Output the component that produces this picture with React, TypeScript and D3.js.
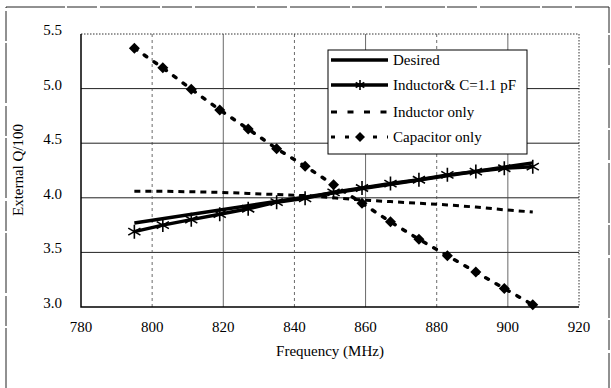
import React, { useEffect, useRef } from 'react';
import * as d3 from 'd3';

const freqs = [795, 803, 811, 819, 827, 835, 843, 851, 859, 867, 875, 883, 891, 899, 907];
const desiredFreqs = [795, 907];
const desired = [3.77, 4.32];
const inductorC = [3.69, 3.75, 3.80, 3.85, 3.90, 3.96, 3.995, 4.05, 4.09, 4.13, 4.165, 4.21, 4.24, 4.27, 4.285];
const inductorOnly = [4.06, 4.06, 4.055, 4.05, 4.04, 4.03, 4.02, 4.0, 3.98, 3.965, 3.95, 3.935, 3.915, 3.89, 3.87];
const capacitorOnly = [5.37, 5.19, 4.995, 4.805, 4.63, 4.45, 4.29, 4.12, 3.95, 3.78, 3.62, 3.47, 3.32, 3.17, 3.02];
const xTicks = [780, 800, 820, 840, 860, 880, 900, 920];
const yTicks = [3.0, 3.5, 4.0, 4.5, 5.0, 5.5];
const legendLabels = ['Desired', 'Inductor& C=1.1 pF', 'Inductor only', 'Capacitor only'];

const FONT = "'Liberation Serif', 'DejaVu Serif', serif";

const App = () => {
  const svgRef = useRef<SVGSVGElement | null>(null);

  useEffect(() => {
    const root = d3.select(svgRef.current);
    root.selectAll('*').remove();

    const W = 611, H = 388;
    const margin = { top: 34, right: 32, bottom: 81, left: 81 };
    const width = W - margin.left - margin.right;
    const height = H - margin.top - margin.bottom;

    root.attr('width', W).attr('height', H).attr('font-family', FONT);

    // outer frame
    root.append('path')
      .attr('d', `M6,${H} L6,7 L609,7 L609,${H}`)
      .attr('fill', 'none').attr('stroke', '#222').attr('stroke-width', 1)
      .attr('stroke-dasharray', '60,2,30,3');

    const svg = root.append('g').attr('transform', `translate(${margin.left},${margin.top})`);

    const x = d3.scaleLinear().domain([780, 920]).range([0, width]);
    const y = d3.scaleLinear().domain([3.0, 5.5]).range([height, 0]);

    // grid
    yTicks.slice(1, -1).forEach(t => {
      svg.append('line').attr('x1', 0).attr('x2', width).attr('y1', y(t)).attr('y2', y(t))
        .attr('stroke', '#222').attr('stroke-width', 1);
    });
    xTicks.slice(1, -1).forEach((t, i) => {
      svg.append('line').attr('x1', x(t)).attr('x2', x(t)).attr('y1', 0).attr('y2', height)
        .attr('stroke', '#444').attr('stroke-width', 0.8)
        .attr('stroke-dasharray', i % 2 === 0 ? '3,3' : null);
    });
    // top/right dotted border
    svg.append('path').attr('d', `M0,0 L${width},0 L${width},${height}`)
      .attr('fill', 'none').attr('stroke', '#333').attr('stroke-width', 1).attr('stroke-dasharray', '1.5,1.5');
    // axes lines
    svg.append('path').attr('d', `M0,0 L0,${height} L${width},${height}`)
      .attr('fill', 'none').attr('stroke', '#000').attr('stroke-width', 1.5);

    // tick labels
    svg.append('g').selectAll('text').data(yTicks).join('text')
      .attr('x', -19).attr('y', d => y(d) + 1)
      .attr('text-anchor', 'end')
      .attr('font-family', FONT).attr('font-size', 15)
      .text(d => d.toFixed(1));
    svg.append('g').selectAll('text').data(xTicks).join('text')
      .attr('x', d => x(d)).attr('y', height + 25)
      .attr('text-anchor', 'middle')
      .attr('font-family', FONT).attr('font-size', 15)
      .text(d => d);

    svg.append('text').attr('x', width / 2).attr('y', height + 49)
      .attr('text-anchor', 'middle')
      .attr('font-family', FONT).attr('font-size', 15)
      .text('Frequency (MHz)');
    svg.append('text')
      .attr('transform', `translate(${-58},${136}) rotate(-90)`)
      .attr('text-anchor', 'middle')
      .attr('font-family', FONT).attr('font-size', 15)
      .text('External Q/100');

    const line = d3.line<[number, number]>().x(d => x(d[0])).y(d => y(d[1]));
    const pts = (vals: number[], fs: number[] = freqs) => vals.map((v, i) => [fs[i], v] as [number, number]);

    // capacitor only
    svg.append('path').datum(pts(capacitorOnly)).attr('d', line)
      .attr('fill', 'none').attr('stroke', '#000').attr('stroke-width', 3.5)
      .attr('stroke-dasharray', '3,9').attr('stroke-linecap', 'round');
    // inductor only
    svg.append('path').datum(pts(inductorOnly)).attr('d', line)
      .attr('fill', 'none').attr('stroke', '#000').attr('stroke-width', 3)
      .attr('stroke-dasharray', '6,5');
    // desired
    svg.append('path').datum(pts(desired, desiredFreqs)).attr('d', line)
      .attr('fill', 'none').attr('stroke', '#000').attr('stroke-width', 3.5);
    // inductor & C
    svg.append('path').datum(pts(inductorC)).attr('d', line)
      .attr('fill', 'none').attr('stroke', '#000').attr('stroke-width', 3.5);

    const diamond = (g: any, cx: number, cy: number, r: number) => {
      g.append('path').attr('d', `M${cx},${cy - r} L${cx + r},${cy} L${cx},${cy + r} L${cx - r},${cy} Z`)
        .attr('fill', '#000');
    };
    const star = (g: any, cx: number, cy: number, r: number) => {
      const a = r * 0.87, b = r * 0.5;
      g.append('path')
        .attr('d', `M${cx},${cy - r} L${cx},${cy + r} M${cx - a},${cy - b} L${cx + a},${cy + b} M${cx - a},${cy + b} L${cx + a},${cy - b}`)
        .attr('stroke', '#000').attr('stroke-width', 1.6).attr('fill', 'none');
    };

    pts(capacitorOnly).forEach(d => diamond(svg, x(d[0]), y(d[1]), 5.5));
    pts(inductorC).forEach(d => star(svg, x(d[0]), y(d[1]), 7));

    // legend
    const lg = root.append('g').attr('transform', 'translate(328,50)');
    lg.append('rect').attr('width', 199).attr('height', 104)
      .attr('fill', '#fff').attr('stroke', '#000').attr('stroke-width', 1);
    const rowY = [10, 35, 62, 87];
    legendLabels.forEach((label, i) => {
      const ly = rowY[i];
      const seg = lg.append('line').attr('x1', 3).attr('x2', 60).attr('y1', ly).attr('y2', ly)
        .attr('stroke', '#000');
      if (i === 0 || i === 1) seg.attr('stroke-width', 3.5);
      if (i === 2) seg.attr('stroke-width', 3).attr('stroke-dasharray', '6,10.5');
      if (i === 3) seg.attr('stroke-width', 3).attr('stroke-dasharray', '4,10');
      if (i === 1) star(lg, 32, ly, 5);
      if (i === 3) diamond(lg, 32, ly, 5);
      lg.append('text').attr('x', 65).attr('y', ly + 5)
        .attr('font-family', FONT).attr('font-size', 15)
        .text(label);
    });
  }, []);

  return <svg ref={svgRef} style={{ position: 'absolute', left: 0, top: 0, background: '#fff' }}></svg>;
};

export default App;
